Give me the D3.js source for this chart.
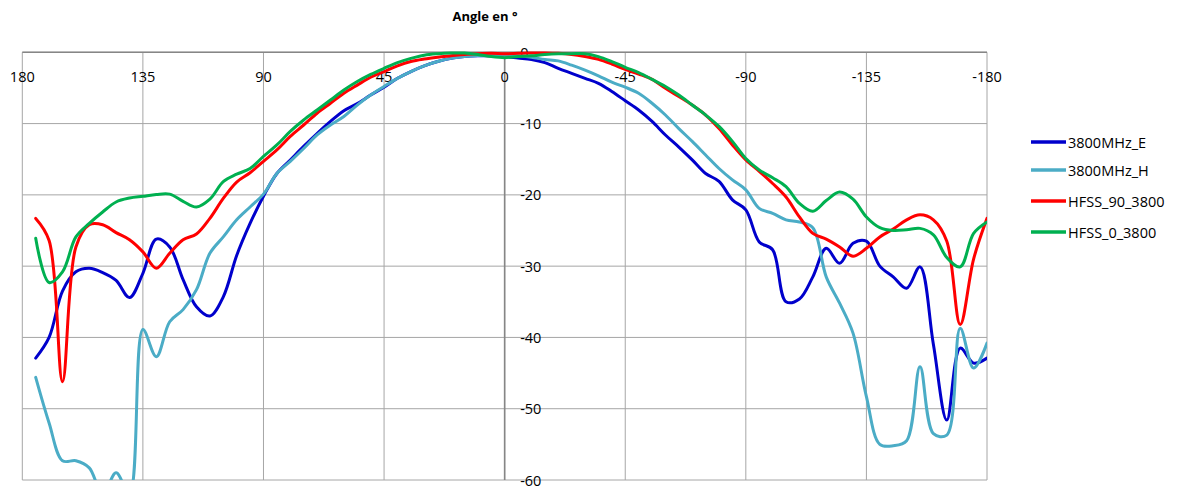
<!DOCTYPE html>
<html>
<head>
  <meta charset="utf-8">
  <title>Angle en °</title>
  <style>
    body { margin: 0; background: #fff; }
    svg text { font-family: "Open Sans", "DejaVu Sans", sans-serif; fill: #000; }
    .grid line { stroke: #a6a6a6; stroke-width: 1; }
    .axis-line { stroke: #868686; stroke-width: 1.6; }
    .series { fill: none; stroke-width: 3; stroke-linejoin: round; stroke-linecap: round; }
  </style>
  <script src="https://d3js.org/d3.v7.min.js"></script>
</head>
<body>
  <div id="chart"></div>
  <script>
    const width = 1180;
    const height = 491;

    // angles (degrees)
    const angles = [175, 170, 165, 160, 155, 150, 145, 140, 135, 130, 125, 120, 115, 110, 105, 100, 95, 90,
      85, 80, 75, 70, 65, 60, 55, 50, 45, 40, 35, 30, 25, 20, 15, 10, 5, 0,
      -5, -10, -15, -20, -25, -30, -35, -40, -45, -50, -55, -60, -65, -70, -75, -80, -85, -90,
      -95, -100, -105, -110, -115, -120, -125, -130, -135, -140, -145, -150, -155, -160, -165, -170, -175, -180];

    const e3800 = [-42.9, -40.0, -33.5, -30.8, -30.3, -30.9, -32.0, -34.4, -31.0, -26.2, -27.3, -31.9, -35.7, -37.0, -34.3, -28.5, -24.0, -20.2,
      -17.0, -15.1, -13.2, -11.4, -9.7, -8.2, -7.2, -6.0, -4.9, -3.65, -2.7, -1.9, -1.3, -0.85, -0.6, -0.5, -0.5, -0.6,
      -0.8, -1.0, -1.45, -2.25, -2.95, -3.65, -4.35, -5.5, -6.8, -8.1, -9.7, -11.6, -13.3, -15.1, -17.0, -18.1, -20.7, -22.1,
      -26.6, -27.7, -35.0, -34.6, -31.5, -27.5, -29.6, -26.8, -26.5, -30.0, -31.5, -33.1, -30.1, -41.0, -51.6, -41.5, -43.6, -42.9];

    const h3800 = [-45.6, -52.0, -57.3, -57.3, -58.3, -62.0, -59.0, -62.0, -38.9, -42.7, -37.8, -36.1, -33.3, -28.2, -25.9, -23.5, -21.7, -19.9,
      -17.0, -15.3, -13.5, -11.6, -10.2, -9.0, -7.4, -6.0, -4.8, -3.65, -2.7, -1.9, -1.3, -0.85, -0.6, -0.45, -0.4, -0.45,
      -0.5, -0.7, -1.0, -1.2, -1.8, -2.5, -3.3, -4.2, -4.9, -5.75, -7.15, -8.8, -10.7, -12.5, -14.4, -16.3, -17.9, -19.3,
      -21.9, -22.6, -23.5, -23.8, -24.6, -31.5, -35.2, -39.4, -48.3, -55.0, -55.2, -54.5, -44.1, -53.5, -53.7, -38.7, -44.3, -40.8];

    const hfss90 = [-23.3, -26.4, -46.2, -27.3, -24.2, -24.2, -25.3, -26.3, -28.0, -30.3, -28.2, -26.3, -25.5, -23.3, -20.5, -18.2, -16.9, -15.3,
      -13.7, -11.8, -10.2, -8.55, -7.15, -5.75, -4.6, -3.5, -2.7, -1.9, -1.3, -0.95, -0.7, -0.5, -0.3, -0.2, -0.15, -0.2,
      -0.15, -0.1, -0.1, -0.15, -0.3, -0.6, -1.0, -1.65, -2.4, -3.05, -3.8, -5.05, -6.2, -7.4, -8.8, -10.7, -13.0, -15.1,
      -16.7, -18.4, -20.3, -23.1, -25.4, -26.2, -27.3, -28.6, -27.5, -25.9, -24.8, -23.5, -22.8, -23.5, -26.5, -38.2, -29.0, -23.3];

    const hfss0 = [-26.1, -32.3, -30.8, -25.9, -24.0, -22.4, -21.0, -20.45, -20.2, -19.95, -19.9, -20.9, -21.7, -20.6, -18.15, -17.1, -16.3, -14.6,
      -13.0, -11.1, -9.5, -8.1, -6.7, -5.3, -4.1, -3.1, -2.25, -1.45, -0.85, -0.4, -0.2, -0.1, -0.1, -0.3, -0.6, -0.75,
      -0.6, -0.5, -0.3, -0.2, -0.2, -0.2, -0.6, -1.3, -2.1, -2.85, -3.8, -4.8, -6.0, -7.4, -8.8, -10.4, -12.5, -14.9,
      -16.5, -17.6, -18.85, -21.2, -22.3, -20.8, -19.6, -20.6, -23.1, -24.6, -25.0, -24.9, -24.7, -25.6, -28.8, -30.1, -25.4, -23.8];

    const seriesNames = ["3800MHz_E", "3800MHz_H", "HFSS_90_3800", "HFSS_0_3800"];
    const seriesValues = [e3800, h3800, hfss90, hfss0];
    const seriesColors = ["#0000cc", "#4bacc6", "#ff0000", "#00b050"];

    const xTicks = [180, 135, 90, 45, 0, -45, -90, -135, -180];
    const yTicks = [0, -10, -20, -30, -40, -50, -60];

    const plot = { left: 22.3, right: 987, top: 52.3, bottom: 480 };

    const x = d3.scaleLinear().domain([180, -180]).range([plot.left, plot.right]);
    const y = d3.scaleLinear().domain([0, -60]).range([plot.top, plot.bottom]);

    const svg = d3.select("#chart")
      .append("svg")
      .attr("width", width)
      .attr("height", height);

    svg.append("defs").append("clipPath")
      .attr("id", "plot-clip")
      .append("rect")
      .attr("x", plot.left)
      .attr("y", plot.top - 3)
      .attr("width", plot.right - plot.left)
      .attr("height", plot.bottom - plot.top + 3);

    // gridlines
    const grid = svg.append("g").attr("class", "grid");
    grid.selectAll("line.h")
      .data(yTicks)
      .enter()
      .append("line")
      .attr("x1", plot.left)
      .attr("x2", plot.right)
      .attr("y1", d => y(d))
      .attr("y2", d => y(d));
    grid.selectAll("line.v")
      .data(xTicks)
      .enter()
      .append("line")
      .attr("y1", plot.top)
      .attr("y2", plot.bottom)
      .attr("x1", d => x(d))
      .attr("x2", d => x(d));

    // axes: top (0 dB) and vertical at 0°
    svg.append("line")
      .attr("class", "axis-line")
      .attr("x1", plot.left).attr("x2", plot.right)
      .attr("y1", y(0)).attr("y2", y(0));
    svg.append("line")
      .attr("class", "axis-line")
      .attr("x1", x(0)).attr("x2", x(0))
      .attr("y1", plot.top).attr("y2", plot.bottom);

    // x tick labels
    svg.append("g")
      .selectAll("text")
      .data(xTicks)
      .enter()
      .append("text")
      .attr("x", d => x(d))
      .attr("y", 76)
      .attr("text-anchor", "middle")
      .attr("dominant-baseline", "central")
      .style("font-size", "14.5px")
      .text(d => d);

    // y tick labels next to the 0° axis
    svg.append("g")
      .selectAll("text")
      .data(yTicks)
      .enter()
      .append("text")
      .attr("x", x(0) + 15.5)
      .attr("y", d => y(d))
      .attr("text-anchor", "start")
      .attr("dominant-baseline", "central")
      .style("font-size", "14.5px")
      .text(d => d);

    // title
    svg.append("text")
      .attr("x", 485)
      .attr("y", 16)
      .attr("text-anchor", "middle")
      .attr("dominant-baseline", "central")
      .style("font-size", "13px")
      .style("font-weight", "bold")
      .text("Angle en °");

    // series
    const line = d3.line()
      .x((d, i) => x(angles[i]))
      .y(d => y(d))
      .curve(d3.curveCatmullRom.alpha(0.5));

    svg.append("g")
      .attr("clip-path", "url(#plot-clip)")
      .selectAll("path")
      .data(seriesValues)
      .enter()
      .append("path")
      .attr("class", "series")
      .attr("stroke", (d, i) => seriesColors[i])
      .attr("d", d => line(d));

    // legend
    const legendY = [142, 170, 201, 232];
    const legend = svg.append("g")
      .selectAll("g")
      .data(seriesNames)
      .enter()
      .append("g")
      .attr("transform", (d, i) => `translate(1031,${legendY[i]})`);
    legend.append("line")
      .attr("x1", 0).attr("x2", 35)
      .attr("y1", 0).attr("y2", 0)
      .attr("stroke", (d, i) => seriesColors[i])
      .attr("stroke-width", 3.5);
    legend.append("text")
      .attr("x", 37)
      .attr("y", 0)
      .attr("dominant-baseline", "central")
      .style("font-size", "14.5px")
      .text(d => d);
  </script>
</body>
</html>
